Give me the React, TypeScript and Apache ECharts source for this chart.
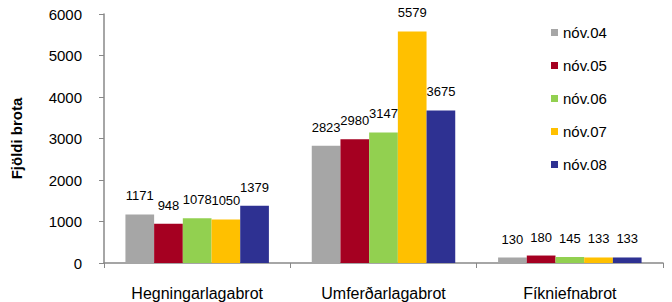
import React, { useEffect, useRef } from "react";
import * as echarts from "echarts";

const categories = ["Hegningarlagabrot", "Umferðarlagabrot", "Fíkniefnabrot"];
const seriesNames = ["nóv.04", "nóv.05", "nóv.06", "nóv.07", "nóv.08"];
const nov04 = [1171, 2823, 130];
const nov05 = [948, 2980, 180];
const nov06 = [1078, 3147, 145];
const nov07 = [1050, 5579, 133];
const nov08 = [1379, 3675, 133];
const colors = ["#A6A6A6", "#A50021", "#92D050", "#FFC000", "#2E3192"];

export default function App() {
  const ref = useRef<HTMLDivElement>(null);
  useEffect(() => {
    const chart = echarts.init(ref.current!, null, { renderer: "svg" });
    const data = [nov04, nov05, nov06, nov07, nov08];
    chart.setOption({
      animation: false,
      textStyle: { fontFamily: "Liberation Sans, Arial, sans-serif" },
      grid: { left: 104, right: 9, top: 14, bottom: 39, containLabel: false },
      legend: {
        orient: "vertical",
        left: 546,
        top: 20,
        itemWidth: 7,
        itemHeight: 7,
        itemGap: 18,
        icon: "rect",
        textStyle: { fontSize: 15, color: "#000" },
        data: seriesNames,
      },
      xAxis: {
        type: "category",
        data: categories,
        axisLine: { lineStyle: { color: "#888", width: 1.5 } },
        axisTick: { show: true, alignWithLabel: false, length: 5, lineStyle: { color: "#888" } },
        axisLabel: { color: "#000", fontSize: 16, margin: 22 },
      },
      yAxis: {
        type: "value",
        min: 0,
        max: 6000,
        interval: 1000,
        name: "Fjöldi brota",
        nameLocation: "middle",
        nameGap: 80,
        nameTextStyle: { fontSize: 15, fontWeight: "bold", color: "#000" },
        axisLine: { show: true, lineStyle: { color: "#888", width: 1.5 } },
        axisTick: { show: true, length: 5, lineStyle: { color: "#888" } },
        axisLabel: { color: "#000", fontSize: 15, margin: 22, formatter: (v: number) => String(v) },
        splitLine: { show: false },
      },
      series: data.map((d, i) => ({
        name: seriesNames[i],
        type: "bar",
        data: d,
        barGap: "0%",
        barCategoryGap: "23%",
        itemStyle: { color: colors[i] },
        label: {
          show: true,
          position: "top",
          distance: 12,
          fontSize: 13,
          color: "#000",
        },
      })),
    });
    return () => chart.dispose();
  }, []);
  return <div ref={ref} style={{ width: 672, height: 302, position: "absolute", left: 0, top: 0 }} />;
}
